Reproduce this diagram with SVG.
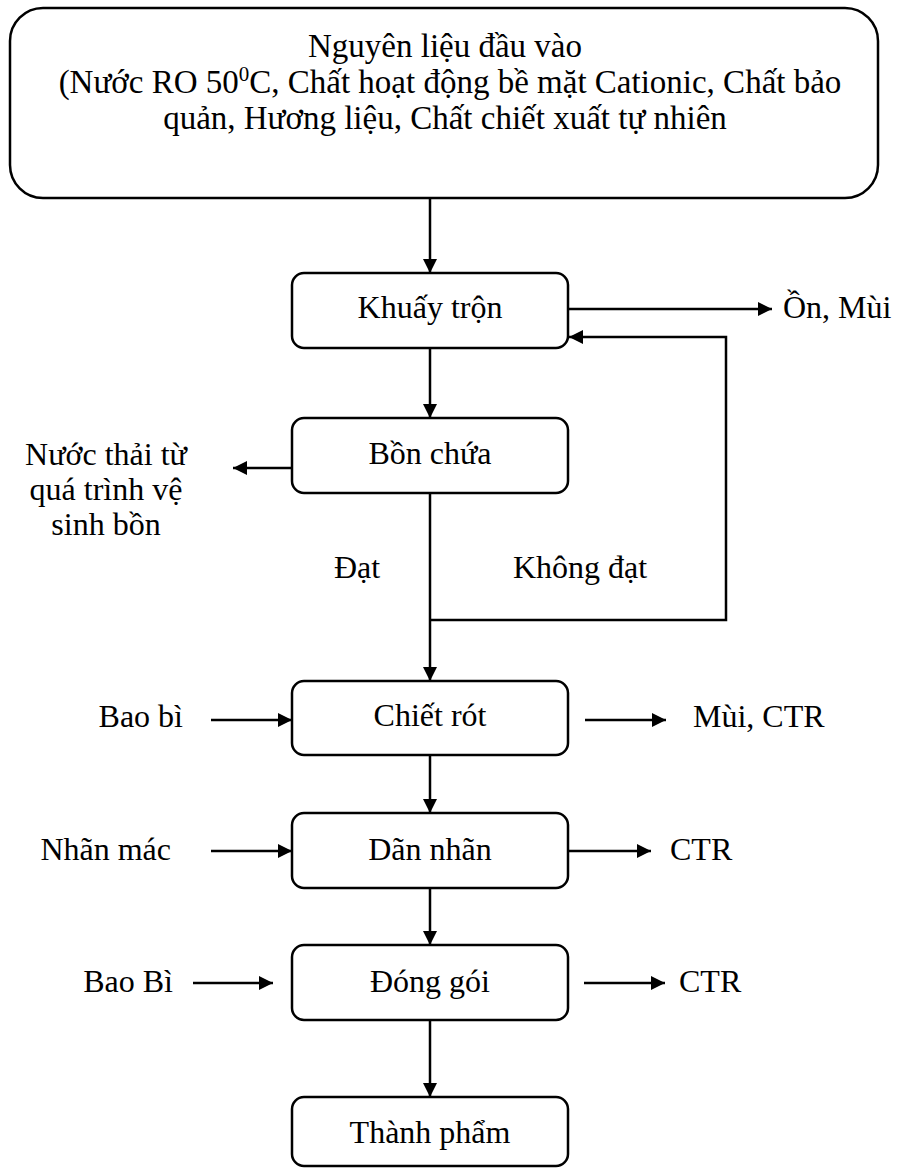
<svg xmlns="http://www.w3.org/2000/svg" width="906" height="1169" viewBox="0 0 906 1169">
  <style>
    .box { fill: #ffffff; stroke: #000000; stroke-width: 2.5; }
    .line { fill: none; stroke: #000000; stroke-width: 2.5; }
    text { font-family: "Liberation Serif", "Times New Roman", serif; font-size: 32px; fill: #000000; }
    .c { text-anchor: middle; }
    .head { font-size: 33px; }
  </style>
  <defs>
    <marker id="arrow" viewBox="0 0 10 10" refX="10" refY="5" markerWidth="6.4" markerHeight="5.6" markerUnits="strokeWidth" orient="auto">
      <path d="M0,0 L10,5 L0,10 Z" fill="#000000"/>
    </marker>
  </defs>
  <rect width="906" height="1169" fill="#ffffff"/>

  <!-- connectors -->
  <g id="connectors">
    <line class="line" x1="430" y1="198" x2="430" y2="273" marker-end="url(#arrow)"/>
    <line class="line" x1="568" y1="309" x2="772" y2="309" marker-end="url(#arrow)"/>
    <polyline class="line" points="430,620 726,620 726,337 569,337" marker-end="url(#arrow)"/>
    <line class="line" x1="430" y1="348" x2="430" y2="418" marker-end="url(#arrow)"/>
    <line class="line" x1="292" y1="468" x2="233" y2="468" marker-end="url(#arrow)"/>
    <line class="line" x1="430" y1="493" x2="430" y2="681" marker-end="url(#arrow)"/>
    <line class="line" x1="211" y1="720" x2="292" y2="720" marker-end="url(#arrow)"/>
    <line class="line" x1="585" y1="720" x2="666" y2="720" marker-end="url(#arrow)"/>
    <line class="line" x1="430" y1="755" x2="430" y2="813" marker-end="url(#arrow)"/>
    <line class="line" x1="211" y1="851" x2="292" y2="851" marker-end="url(#arrow)"/>
    <line class="line" x1="568" y1="851" x2="651" y2="851" marker-end="url(#arrow)"/>
    <line class="line" x1="430" y1="888" x2="430" y2="945" marker-end="url(#arrow)"/>
    <line class="line" x1="193" y1="983" x2="273" y2="983" marker-end="url(#arrow)"/>
    <line class="line" x1="584" y1="983" x2="665" y2="983" marker-end="url(#arrow)"/>
    <line class="line" x1="430" y1="1020" x2="430" y2="1097" marker-end="url(#arrow)"/>
  </g>

  <!-- raw materials -->
  <g id="input">
    <rect class="box" x="10" y="8" width="868" height="190" rx="33" ry="33"/>
    <text class="c head" x="445" y="57">Nguyên liệu đầu vào</text>
    <text class="c head" x="450" y="93">(Nước RO 50<tspan font-size="21" dy="-12">0</tspan><tspan dy="12">C, Chất hoạt động bề mặt Cationic, Chất bảo</tspan></text>
    <text class="c head" x="445" y="129">quản, Hương liệu, Chất chiết xuất tự nhiên</text>
  </g>

  <g id="mixing">
    <rect class="box" x="292" y="273" width="276" height="75" rx="12" ry="12"/>
    <text class="c" x="430" y="318">Khuấy trộn</text>
  </g>
  <g id="mixing-emission">
    <text x="783" y="318">Ồn, Mùi</text>
  </g>

  <g id="tank">
    <rect class="box" x="292" y="418" width="276" height="75" rx="12" ry="12"/>
    <text class="c" x="430" y="464">Bồn chứa</text>
  </g>
  <g id="tank-wastewater">
    <text class="c" x="106" y="465">Nước thải từ</text>
    <text class="c" x="106" y="500">quá trình vệ</text>
    <text class="c" x="106" y="535">sinh bồn</text>
  </g>
  <g id="pass-label"><text x="334" y="578">Đạt</text></g>
  <g id="fail-label"><text x="513" y="578">Không đạt</text></g>

  <g id="filling">
    <rect class="box" x="292" y="681" width="276" height="74" rx="12" ry="12"/>
    <text class="c" x="430" y="726">Chiết rót</text>
  </g>
  <g id="filling-input"><text x="183" y="727" text-anchor="end">Bao bì</text></g>
  <g id="filling-emission"><text x="693" y="727">Mùi, CTR</text></g>

  <g id="labeling">
    <rect class="box" x="292" y="813" width="276" height="75" rx="12" ry="12"/>
    <text class="c" x="430" y="860">Dãn nhãn</text>
  </g>
  <g id="labeling-input"><text x="171" y="860" text-anchor="end">Nhãn mác</text></g>
  <g id="labeling-emission"><text x="670" y="860">CTR</text></g>

  <g id="packing">
    <rect class="box" x="292" y="945" width="276" height="75" rx="12" ry="12"/>
    <text class="c" x="430" y="992">Đóng gói</text>
  </g>
  <g id="packing-input"><text x="173" y="992" text-anchor="end">Bao Bì</text></g>
  <g id="packing-emission"><text x="679" y="992">CTR</text></g>

  <g id="product">
    <rect class="box" x="292" y="1097" width="276" height="69" rx="12" ry="12"/>
    <text class="c" x="430" y="1143">Thành phẩm</text>
  </g>
</svg>
